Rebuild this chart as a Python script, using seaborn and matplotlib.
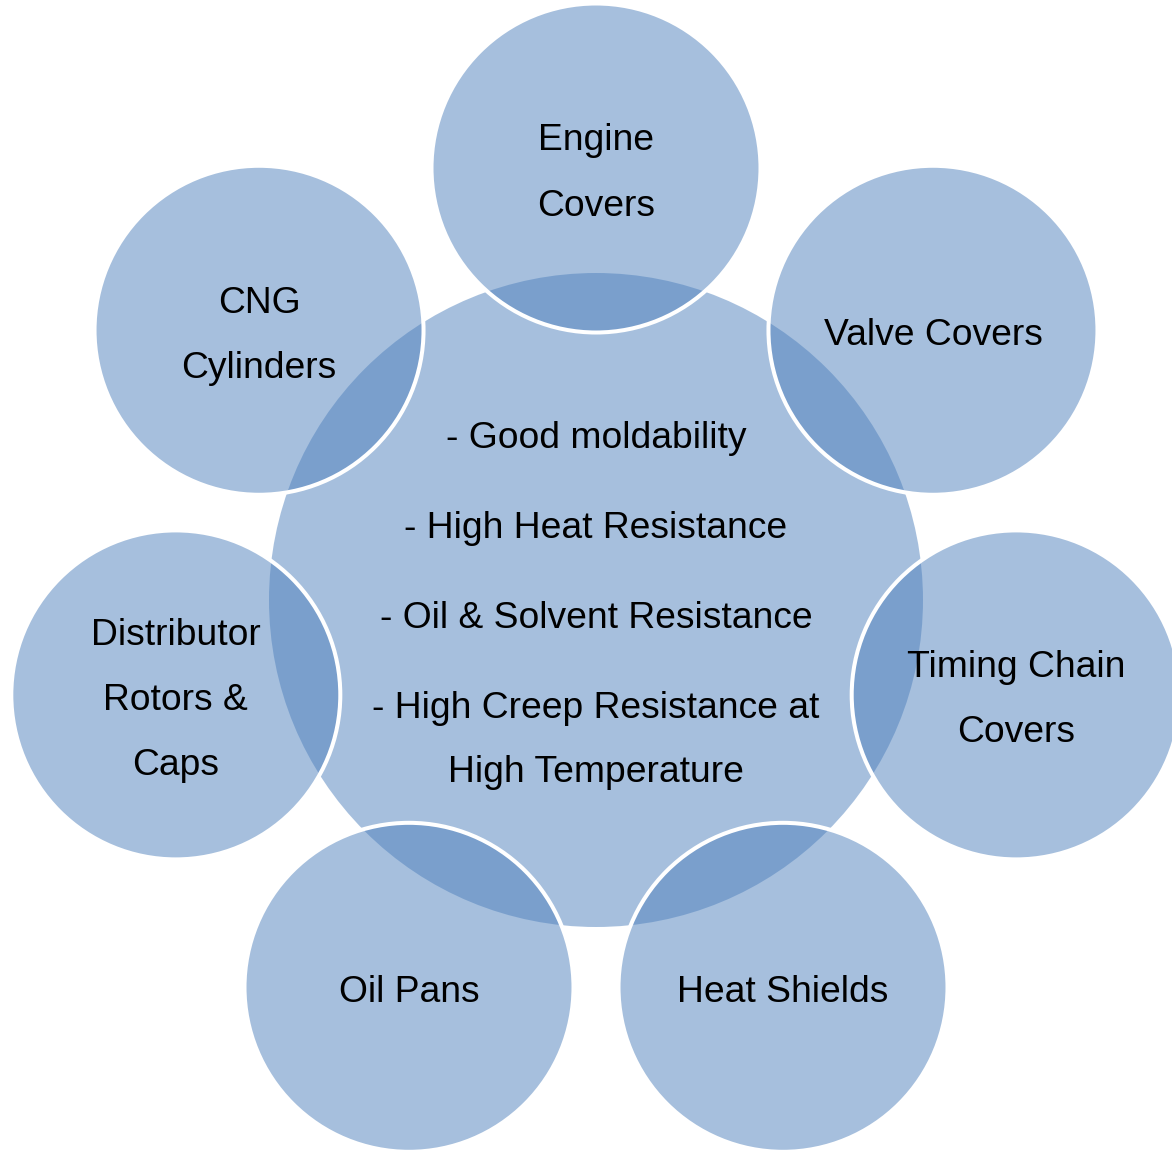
import matplotlib.pyplot as plt
from matplotlib.patches import Circle
import numpy as np
import seaborn as sns

# Data
outer_labels = [
    ["Engine", "Covers"],
    ["Valve Covers"],
    ["Timing Chain", "Covers"],
    ["Heat Shields"],
    ["Oil Pans"],
    ["Distributor", "Rotors &", "Caps"],
    ["CNG", "Cylinders"],
]
center_items = [
    ["- Good moldability"],
    ["- High Heat Resistance"],
    ["- Oil & Solvent Resistance"],
    ["- High Creep Resistance at", "High Temperature"],
]

# Layout (pixels)
W, H = 1172, 1152
CX, CY = 596, 599
R_CENTER = 327
R_OUTER = 164.5
DIST = 431
LINE_H = 65
ITEM_GAP = 90
FONT_SIZE = 26.8
TXT_DY = 1.5

sns.set_theme(style="white")
plt.rcParams['font.family'] = ['Liberation Sans', 'DejaVu Sans']

fill = (79 / 255, 129 / 255, 189 / 255, 0.5)

fig = plt.figure(figsize=(W / 100, H / 100), dpi=100)
ax = fig.add_axes([0, 0, 1, 1])
ax.set_xlim(0, W)
ax.set_ylim(H, 0)
ax.set_aspect("equal")
ax.axis("off")

ax.add_patch(Circle((CX, CY + 1), R_CENTER, facecolor=fill, edgecolor="none"))

n = len(outer_labels)
for i, lines in enumerate(outer_labels):
    ang = np.deg2rad(90 - i * 360 / n)
    x = CX + DIST * np.cos(ang)
    y = CY - DIST * np.sin(ang)
    ax.add_patch(Circle((x, y), R_OUTER, facecolor=fill, edgecolor="white", linewidth=2.9))
    for j, line in enumerate(lines):
        ty = y + (j - (len(lines) - 1) / 2) * LINE_H + TXT_DY
        ax.text(x, ty, line, ha="center", va="center_baseline", fontsize=FONT_SIZE, color="black")

# center text block
ys = []
y = 0
for k, item in enumerate(center_items):
    for j, line in enumerate(item):
        ys.append((y, line))
        y += LINE_H if j < len(item) - 1 else ITEM_GAP
total = ys[-1][0]
for off, line in ys:
    ax.text(CX, CY + 1 - total / 2 + off + TXT_DY, line, ha="center", va="center_baseline",
            fontsize=FONT_SIZE, color="black")

fig.savefig("out.png", dpi=100, facecolor="white")
